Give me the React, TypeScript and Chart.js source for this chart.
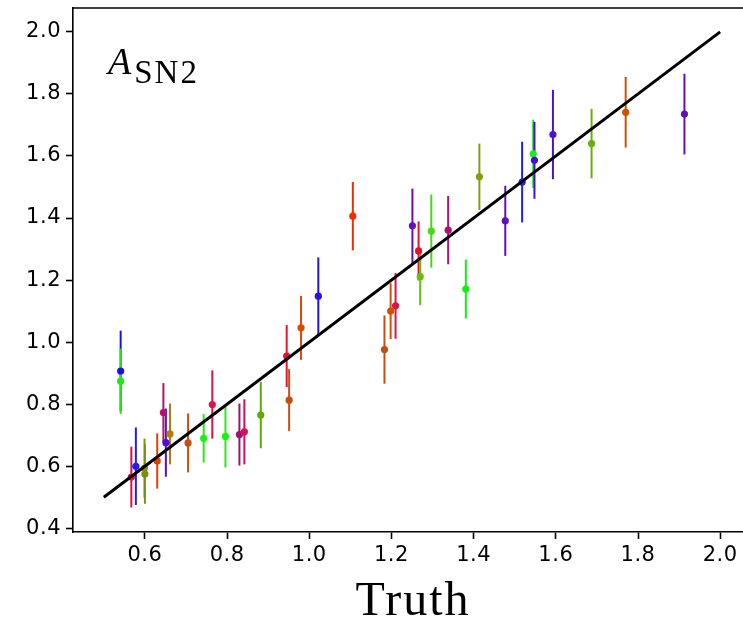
import React, { useEffect, useRef } from "react";
import { Chart, registerables } from "chart.js";

Chart.register(...registerables);

const truthX = [0.541, 0.541, 0.567, 0.578, 0.599, 0.600, 0.630, 0.645, 0.651, 0.661,
  0.705, 0.743, 0.764, 0.796, 0.830, 0.842, 0.882, 0.945, 0.951, 0.980,
  1.022, 1.106, 1.183, 1.198, 1.210, 1.251, 1.266, 1.270, 1.297, 1.338,
  1.381, 1.414, 1.477, 1.518, 1.545, 1.548, 1.593, 1.687, 1.770, 1.913];
const predY = [0.907, 0.874, 0.565, 0.600, 0.594, 0.575, 0.617, 0.773, 0.676, 0.704,
  0.675, 0.690, 0.799, 0.696, 0.702, 0.711, 0.765, 0.955, 0.813, 1.046,
  1.148, 1.406, 0.976, 1.100, 1.117, 1.375, 1.294, 1.211, 1.358, 1.361,
  1.171, 1.533, 1.391, 1.516, 1.607, 1.586, 1.669, 1.640, 1.741, 1.735];
const errY = [0.13, 0.105, 0.098, 0.125, 0.095, 0.096, 0.089, 0.095, 0.11, 0.098,
  0.095, 0.078, 0.11, 0.10, 0.10, 0.105, 0.107, 0.10, 0.10, 0.103,
  0.125, 0.11, 0.11, 0.09, 0.106, 0.12, 0.095, 0.092, 0.118, 0.11,
  0.095, 0.107, 0.113, 0.13, 0.11, 0.124, 0.144, 0.112, 0.114, 0.13];
const pointColors = ["#1a10e8", "#22e61a", "#d8104a", "#1e1ef0", "#6ea000", "#808c10", "#e04000", "#b8106a", "#5010d0", "#b8780a",
  "#c85010", "#22ee11", "#e01048", "#22ee11", "#a01070", "#d81050", "#60a800", "#e81030", "#c05010", "#d84a00",
  "#2a10e0", "#e83000", "#c05010", "#d05008", "#e01040", "#6010c0", "#e81030", "#60c010", "#44d810", "#b01070",
  "#11ee11", "#8a9a10", "#6010b8", "#1a20f0", "#22e622", "#4010d8", "#5010d0", "#66b010", "#d05000", "#6010b8"];

const lineX = [0.5, 2.0];
const lineY = [0.5, 2.0];
const xTicks = [0.6, 0.8, 1.0, 1.2, 1.4, 1.6, 1.8, 2.0];
const yTicks = [0.4, 0.6, 0.8, 1.0, 1.2, 1.4, 1.6, 1.8, 2.0];
const xTitle = "Truth";
const labelMain = "A";
const labelSub = "SN2";

const extrasPlugin = {
  id: "extras",
  beforeDraw(chart: any) {
    (chart.ctx as any).letterSpacing = "0.5px";
  },
  beforeDatasetsDraw(chart: any) {
    const ctx = chart.ctx;
    const xs = chart.scales.x;
    const ys = chart.scales.y;
    ctx.save();
    ctx.lineWidth = 2;
    ctx.lineCap = "butt";
    for (let i = 0; i < truthX.length; i++) {
      const px = xs.getPixelForValue(truthX[i]);
      ctx.strokeStyle = pointColors[i];
      ctx.beginPath();
      ctx.moveTo(px, ys.getPixelForValue(predY[i] - errY[i]));
      ctx.lineTo(px, ys.getPixelForValue(predY[i] + errY[i]));
      ctx.stroke();
    }
    ctx.restore();
  },
  afterDraw(chart: any) {
    const ctx = chart.ctx;
    const a = chart.chartArea;
    ctx.save();
    ctx.strokeStyle = "#000";
    ctx.lineWidth = 1.6;
    ctx.beginPath();
    ctx.moveTo(a.left, a.top);
    ctx.lineTo(a.right, a.top);
    ctx.stroke();
    ctx.fillStyle = "#000";
    ctx.textBaseline = "alphabetic";
    ctx.textAlign = "center";
    ctx.letterSpacing = "2px";
    ctx.font = "48px 'Liberation Serif'";
    ctx.fillText(xTitle, (a.left + a.right) / 2 + 1, 615);
    ctx.textAlign = "left";
    ctx.letterSpacing = "0px";
    ctx.font = "italic 38px 'Liberation Serif'";
    ctx.fillText(labelMain, 108, 74);
    const w = ctx.measureText(labelMain).width;
    ctx.letterSpacing = "2px";
    ctx.font = "33px 'Liberation Serif'";
    ctx.fillText(labelSub, 108 + w + 3, 83);
    ctx.restore();
    ctx.letterSpacing = "0px";
  },
};

export default function App() {
  const ref = useRef<HTMLCanvasElement>(null);
  useEffect(() => {
    if (!ref.current) return;
    const tickFont = { family: "'DejaVu Sans'", size: 21 };
    const chart = new Chart(ref.current, {
      type: "scatter",
      data: {
        datasets: [
          {
            type: "line",
            data: lineX.map((x, i) => ({ x, y: lineY[i] })),
            borderColor: "#000",
            borderWidth: 3,
            pointRadius: 0,
            order: 0,
          } as any,
          {
            type: "scatter",
            data: truthX.map((x, i) => ({ x, y: predY[i] })),
            backgroundColor: pointColors,
            borderColor: pointColors,
            borderWidth: 0,
            pointRadius: 3.6,
            order: 1,
          },
        ],
      },
      options: {
        responsive: false,
        animation: false,
        plugins: { legend: { display: false }, tooltip: { enabled: false } },
        layout: { padding: { left: 0, right: 9, top: 8, bottom: 0 } },
        scales: {
          x: {
            type: "linear",
            min: 0.425,
            max: 2.075,
            afterFit: (s: any) => { s.height = 89; s.paddingLeft = 0; s.paddingRight = 0; },
            afterBuildTicks: (s: any) => { s.ticks = xTicks.map((v) => ({ value: v })); },
            ticks: {
              autoSkip: false,
              maxRotation: 0,
              color: "#000",
              font: tickFont,
              padding: 4,
              callback: (v: any) => Number(v).toFixed(1),
            },
            grid: { drawOnChartArea: false, drawTicks: true, tickLength: 7, tickWidth: 1.6, tickColor: "#000" },
            border: { display: true, color: "#000", width: 1.6 },
          },
          y: {
            type: "linear",
            min: 0.388,
            max: 2.077,
            afterFit: (s: any) => { s.width = 73; s.paddingTop = 0; s.paddingBottom = 0; },
            afterBuildTicks: (s: any) => { s.ticks = yTicks.map((v) => ({ value: v })); },
            ticks: {
              autoSkip: false,
              color: "#000",
              font: tickFont,
              padding: 5,
              callback: (v: any) => Number(v).toFixed(1),
            },
            grid: { drawOnChartArea: false, drawTicks: true, tickLength: 7, tickWidth: 1.6, tickColor: "#000" },
            border: { display: true, color: "#000", width: 1.6 },
          },
        },
      },
      plugins: [extrasPlugin],
    });
    return () => chart.destroy();
  }, []);
  return (
    <div style={{ position: "absolute", left: 0, top: 0, width: 743, height: 621, overflow: "hidden", background: "#fff" }}>
      <canvas ref={ref} width={760} height={621} style={{ width: 760, height: 621, display: "block" }} />
    </div>
  );
}
